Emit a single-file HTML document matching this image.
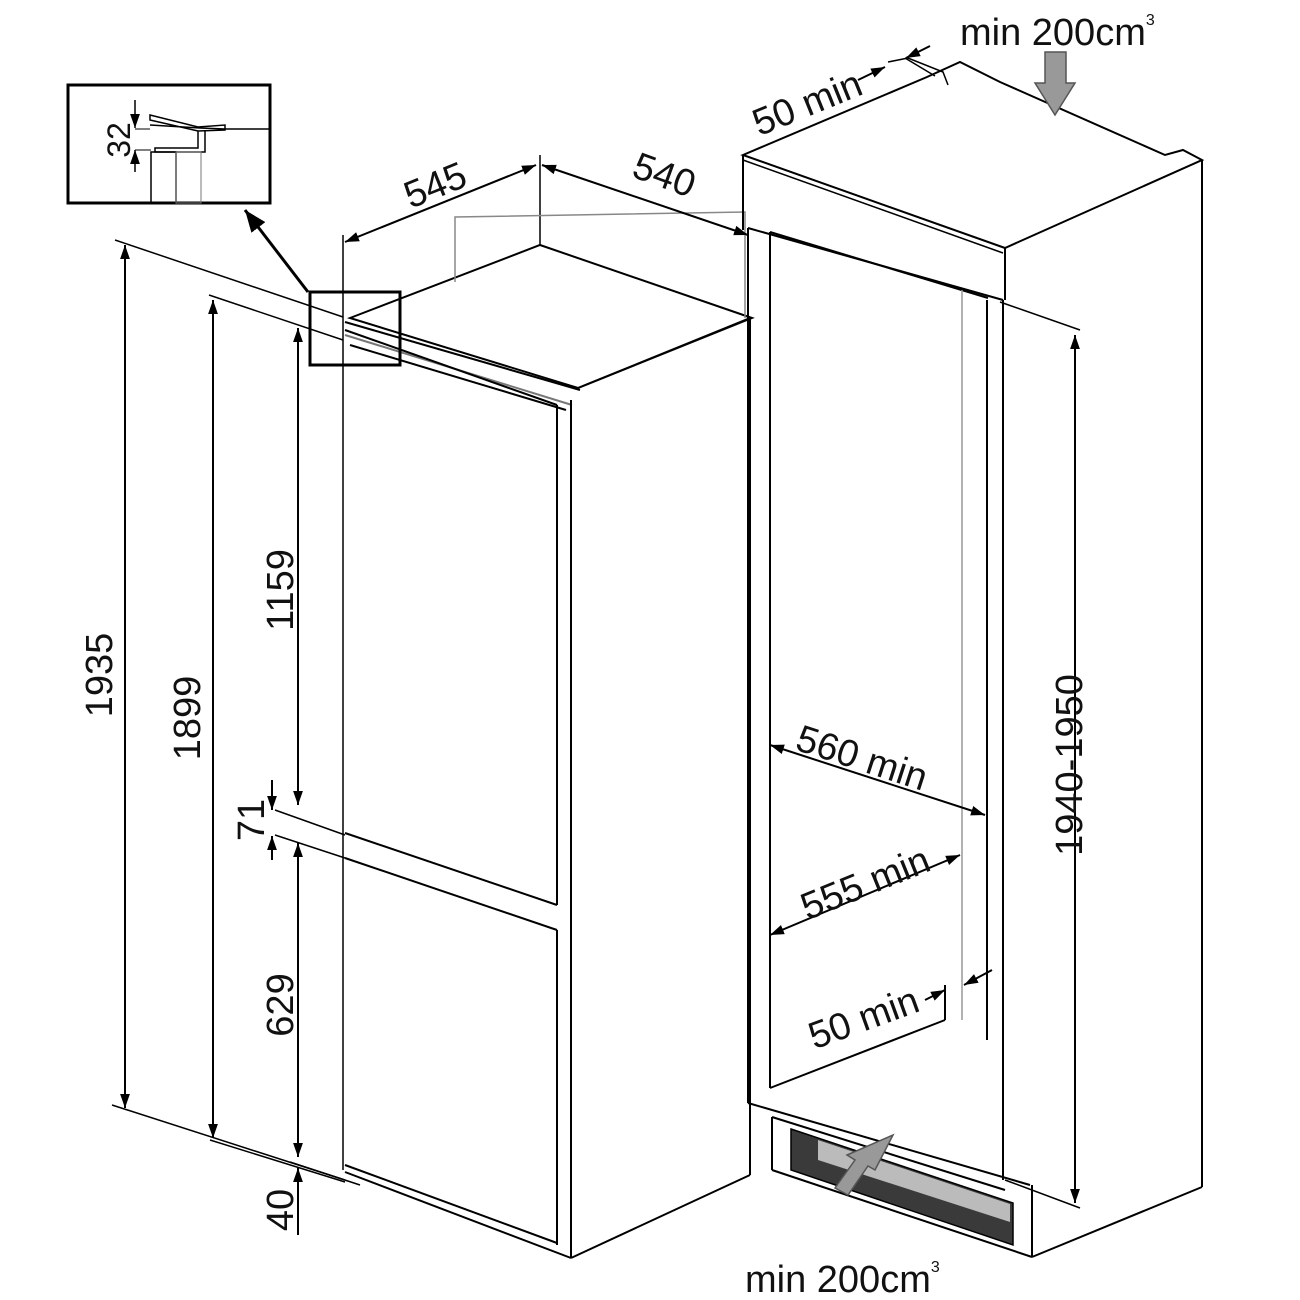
<!DOCTYPE html>
<html><head><meta charset="utf-8"><style>html,body{margin:0;padding:0;background:#fff}svg{display:block}text{font-family:"Liberation Sans",sans-serif;fill:#111}</style></head>
<body>
<svg width="1300" height="1300" viewBox="0 0 1300 1300" xmlns="http://www.w3.org/2000/svg">
<defs>
<marker id="a" viewBox="0 0 10 10" refX="10" refY="5" markerWidth="14" markerHeight="14" orient="auto-start-reverse" markerUnits="userSpaceOnUse"><path d="M0,1.5 L10,5 L0,8.5 Z" fill="#000"/></marker>
<marker id="b" viewBox="0 0 10 10" refX="10" refY="5" markerWidth="22" markerHeight="22" orient="auto-start-reverse" markerUnits="userSpaceOnUse"><path d="M0,1 L10,5 L0,9 Z" fill="#000"/></marker>
</defs>
<g fill="none" stroke="#000" stroke-width="2">
<polygon points="350,318 540,245 752,318 578,388" fill="#fff"/>
<line x1="540" y1="155" x2="540" y2="245" stroke-width="1.5"/>
<polyline points="455,282 455,217 745,212 745,318" stroke="#888" stroke-width="1.5"/>
<line x1="343" y1="235" x2="343" y2="1170" stroke-width="1.5"/>
<line x1="345" y1="322" x2="580" y2="390"/>
<line x1="345" y1="335" x2="572" y2="405" stroke="#777"/>
<line x1="350" y1="345" x2="566" y2="410"/>
<line x1="345" y1="330" x2="557" y2="405"/>
<line x1="557" y1="405" x2="557" y2="905"/>
<line x1="345" y1="833" x2="557" y2="905"/>
<line x1="345" y1="858" x2="557" y2="930"/>
<line x1="557" y1="930" x2="557" y2="1245"/>
<line x1="345" y1="1165" x2="557" y2="1243"/>
<line x1="571" y1="400" x2="571" y2="1258"/>
<line x1="345" y1="1172" x2="571" y2="1258"/>
<line x1="571" y1="1258" x2="750" y2="1175"/>
<line x1="750" y1="318" x2="750" y2="1175"/>
<line x1="578" y1="388" x2="750" y2="318"/>
<line x1="115" y1="240" x2="343" y2="317" stroke-width="1.5"/>
<line x1="209" y1="295" x2="343" y2="340" stroke-width="1.5"/>
<line x1="112" y1="1105" x2="345" y2="1180" stroke-width="1.5"/>
<line x1="210" y1="1140" x2="345" y2="1182" stroke-width="1.5"/>
<line x1="290" y1="1162" x2="360" y2="1185" stroke-width="1.5"/>
<line x1="275" y1="810" x2="345" y2="835" stroke-width="1.5"/>
<line x1="275" y1="835" x2="345" y2="858" stroke-width="1.5"/>
<line x1="125" y1="245" x2="125" y2="1108" marker-start="url(#a)" marker-end="url(#a)"/>
<line x1="213" y1="300" x2="213" y2="1138" marker-start="url(#a)" marker-end="url(#a)"/>
<line x1="298" y1="328" x2="298" y2="805" marker-start="url(#a)" marker-end="url(#a)"/>
<line x1="272" y1="780" x2="272" y2="810" marker-end="url(#a)"/>
<line x1="272" y1="860" x2="272" y2="836" marker-end="url(#a)"/>
<line x1="298" y1="843" x2="298" y2="1157" marker-start="url(#a)" marker-end="url(#a)"/>
<line x1="298" y1="1235" x2="298" y2="1168" marker-end="url(#a)"/>
<line x1="345" y1="242" x2="536" y2="165" marker-start="url(#a)" marker-end="url(#a)"/>
<line x1="542" y1="165" x2="748" y2="235" marker-start="url(#a)" marker-end="url(#a)"/>
<rect x="68" y="85" width="202" height="118" stroke-width="3"/>
<rect x="310" y="292" width="90" height="73" stroke-width="3"/>
<line x1="308" y1="292" x2="245" y2="210" stroke-width="3" marker-end="url(#b)"/>
<polyline points="150,125 200,128 225,129 270,129" stroke-width="1.5"/>
<polygon points="150,115 198,127 225,125 225,130 198,131 150,120" stroke-width="1.5"/>
<polyline points="198,131 198,148 155,148 155,152 205,152 205,131" stroke-width="1.5"/>
<rect x="151" y="152" width="25" height="51" stroke-width="1.5"/>
<rect x="176" y="152" width="25" height="51" stroke-width="1" stroke="#777"/>
<line x1="135" y1="100" x2="135" y2="128" stroke-width="1.5" marker-end="url(#a)"/>
<line x1="135" y1="172" x2="135" y2="150" stroke-width="1.5" marker-end="url(#a)"/>
<line x1="135" y1="129" x2="150" y2="129" stroke-width="1"/>
<line x1="135" y1="150" x2="151" y2="150" stroke-width="1"/>
<polygon points="743,155 927,77 960,62 1000,82 1165,155 1183,150 1202,160 1005,248" fill="#fff"/>
<line x1="743" y1="160" x2="1003" y2="253" stroke-width="1.5"/>
<line x1="743" y1="155" x2="743" y2="230"/>
<line x1="748" y1="228" x2="1003" y2="300"/>
<line x1="1005" y1="248" x2="1005" y2="300"/>
<line x1="1202" y1="160" x2="1202" y2="1187"/>
<line x1="748" y1="228" x2="748" y2="1103"/>
<line x1="770" y1="232" x2="770" y2="1088"/>
<line x1="770" y1="232" x2="988" y2="298"/>
<line x1="962" y1="290" x2="962" y2="1020" stroke="#999" stroke-width="1.5"/>
<line x1="987" y1="300" x2="987" y2="1040"/>
<line x1="1003" y1="300" x2="1003" y2="1180"/>
<line x1="770" y1="1088" x2="945" y2="1020"/>
<line x1="945" y1="1020" x2="945" y2="985"/>
<line x1="748" y1="1103" x2="1030" y2="1185"/>
<line x1="772" y1="1117" x2="772" y2="1170"/>
<line x1="772" y1="1170" x2="1032" y2="1257"/>
<line x1="1032" y1="1185" x2="1032" y2="1257"/>
<line x1="1032" y1="1257" x2="1202" y2="1187"/>
<line x1="772" y1="1117" x2="1005" y2="1190"/>
<polygon points="791,1129 1013,1203 1013,1245 791,1170" fill="#3a3a3a" stroke-width="1.5"/>
<polygon points="818,1140 1010,1204 1010,1222 818,1160" fill="#bbb" stroke="none"/>
<polyline points="888,62 908,58 943,72 948,85" stroke-width="1.5"/>
<line x1="905" y1="58" x2="935" y2="76" stroke-width="1.5"/>
<line x1="1000" y1="302" x2="1080" y2="330" stroke-width="1.5"/>
<line x1="1005" y1="1180" x2="1080" y2="1208" stroke-width="1.5"/>
<line x1="1075" y1="335" x2="1075" y2="1203" marker-start="url(#a)" marker-end="url(#a)"/>
<line x1="770" y1="745" x2="985" y2="815" marker-start="url(#a)" marker-end="url(#a)"/>
<line x1="770" y1="935" x2="960" y2="855" marker-start="url(#a)" marker-end="url(#a)"/>
<line x1="925" y1="1000" x2="945" y2="990" marker-end="url(#a)"/>
<line x1="992" y1="970" x2="964" y2="985" marker-end="url(#a)"/>
<line x1="858" y1="80" x2="885" y2="67" marker-end="url(#a)"/>
<line x1="930" y1="46" x2="906" y2="58" marker-end="url(#a)"/>
</g>
<polygon points="1045,52 1066,52 1066,83 1075,83 1055,115 1035,83 1045,83" fill="#999" stroke="#555" stroke-width="1.5"/>
<polygon points="835,1188 855,1160 847,1155 893,1135 875,1170 868,1166 848,1195" fill="#999" stroke="#555" stroke-width="1.5"/>
<g font-size="38">
<text x="960" y="45">min 200cm<tspan font-size="16" dy="-20">3</tspan></text>
<text x="745" y="1292">min 200cm<tspan font-size="16" dy="-20">3</tspan></text>
<text transform="translate(440,197) rotate(-22)" text-anchor="middle">545</text>
<text transform="translate(660,187) rotate(20)" text-anchor="middle">540</text>
<text transform="translate(112,675) rotate(-90)" text-anchor="middle">1935</text>
<text transform="translate(200,718) rotate(-90)" text-anchor="middle">1899</text>
<text transform="translate(293,590) rotate(-90)" text-anchor="middle">1159</text>
<text transform="translate(264,820) rotate(-90)" text-anchor="middle">71</text>
<text transform="translate(293,1005) rotate(-90)" text-anchor="middle">629</text>
<text transform="translate(293,1210) rotate(-90)" text-anchor="middle">40</text>
<text transform="translate(130,140) rotate(-90)" text-anchor="middle" font-size="32">32</text>
<text transform="translate(1082,765) rotate(-90)" text-anchor="middle">1940-1950</text>
<text transform="translate(858,770) rotate(18)" text-anchor="middle">560 min</text>
<text transform="translate(870,895) rotate(-22)" text-anchor="middle">555 min</text>
<text transform="translate(868,1030) rotate(-20)" text-anchor="middle">50 min</text>
<text transform="translate(812,115) rotate(-22)" text-anchor="middle">50 min</text>
</g>
</svg>
</body></html>
